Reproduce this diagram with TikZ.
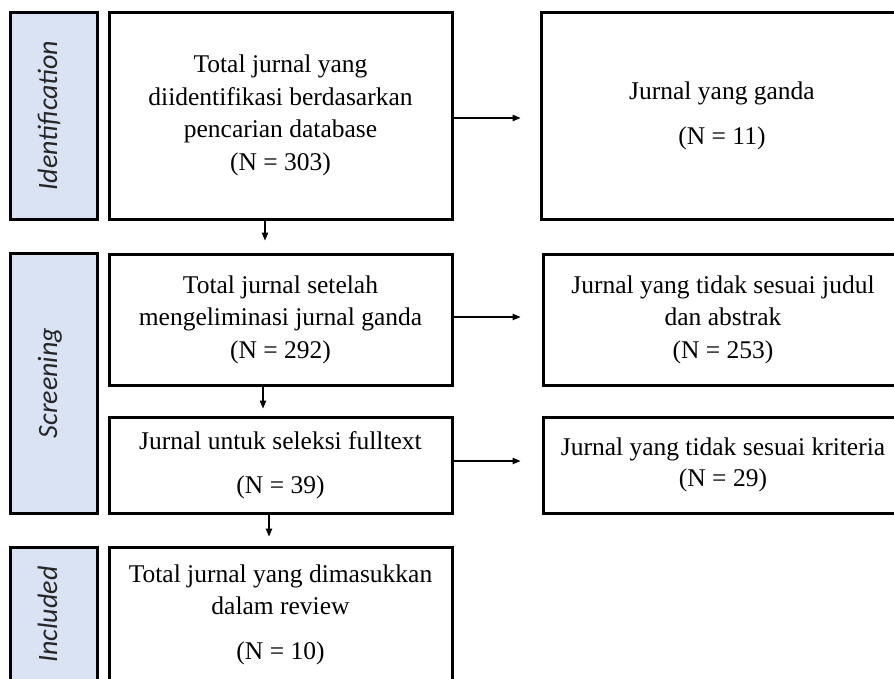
\documentclass[tikz,border=0pt]{standalone}
\usepackage{fontspec}
\setmainfont{Liberation Serif}
\newfontfamily\labfont{Carlito}
\usetikzlibrary{arrows.meta}
\definecolor{labblue}{HTML}{DAE3F3}
\newcommand{\stagetext}[1]{\raisebox{12pt}{#1}}
\begin{document}
\begin{tikzpicture}[x=1pt,y=-1pt,
 box/.style={draw=black, line width=3pt, fill=white, inner sep=0pt, align=center, font=\fontsize{25.5}{32.5}\selectfont},
 stage/.style={draw=black, line width=3pt, fill=labblue, rotate=90, inner sep=0pt, text=black!85, font=\labfont\itshape\fontsize{28}{30}\selectfont},
 flow/.style={line width=1.2pt, -{Triangle[length=8pt,width=6.5pt]}}]
\useasboundingbox (0,0) rectangle (894,678);
\clip (0,0) rectangle (894,678);
% stage labels
\node[stage, minimum width=207pt, minimum height=87pt] (lab1) at (53.5,115.5) {\stagetext{Identification}};
\node[stage, minimum width=260pt, minimum height=87pt] (lab2) at (53.5,383) {\stagetext{Screening}};
\node[stage, minimum width=135pt, minimum height=87pt] (lab3) at (53.5,614.5) {\stagetext{Included}};
% main column
\node[box, minimum width=343pt, minimum height=207pt] (b1) at (280.5,115.5)
  {Total jurnal yang\\diidentifikasi berdasarkan\\pencarian database\\(N = 303)};
\node[box, minimum width=343pt, minimum height=131pt] (b2) at (280.5,319.5)
  {Total jurnal setelah\\mengeliminasi jurnal ganda\\(N = 292)};
\node[box, minimum width=343pt, minimum height=96pt] (b3) at (280.5,465)
  {Jurnal untuk seleksi fulltext\\[11.5pt](N = 39)};
\node[box, minimum width=343pt, minimum height=135pt] (b4) at (280.5,614.5)
  {Total jurnal yang dimasukkan\\dalam review\\[12pt](N = 10)};
% right column
\node[box, minimum width=362pt, minimum height=207pt] (r1) at (722,115.5)
  {Jurnal yang ganda\\[12.5pt](N = 11)};
\node[box, minimum width=360pt, minimum height=131pt] (r2) at (723,319.5)
  {Jurnal yang tidak sesuai judul\\dan abstrak\\(N = 253)};
\node[box, minimum width=360pt, minimum height=96pt] (r3) at (723,465)
  {Jurnal yang tidak sesuai kriteria\\[-2pt](N = 29)};
% connectors
\draw[flow, shorten >=19pt] ([yshift=-2.5pt]b1.east) -- ([yshift=-2.5pt]r1.west);
\draw[flow, shorten >=21pt] ([yshift=2.5pt]b2.east) -- ([yshift=2.5pt]r2.west);
\draw[flow, shorten >=21pt] ([yshift=4pt]b3.east) -- ([yshift=4pt]r3.west);
\draw[flow, shorten >=12pt] ([xshift=-15.5pt]b1.south) -- ([xshift=-15.5pt]b2.north);
\draw[flow, shorten >=7pt] ([xshift=-17.5pt]b2.south) -- ([xshift=-17.5pt]b3.north);
\draw[flow, shorten >=9pt] ([xshift=-11.5pt]b3.south) -- ([xshift=-11.5pt]b4.north);
\end{tikzpicture}
\end{document}
